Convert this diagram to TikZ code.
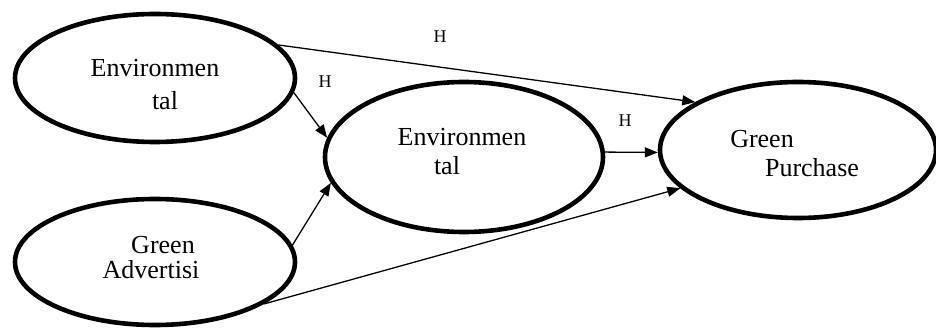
\documentclass[tikz,border=0pt]{standalone}
\usepackage{fontspec}
\setmainfont{Liberation Serif}
\usetikzlibrary{shapes.geometric,arrows.meta}
\begin{document}
\begin{tikzpicture}[x=1pt,y=1pt,
  construct/.style={ellipse,draw,line width=4.6pt,inner sep=0pt},
  lbl/.style={font=\fontsize{26}{28}\selectfont,inner sep=0pt},
  hyp/.style={font=\fontsize{18}{20}\selectfont,inner sep=0pt},
  path/.style={line width=1.3pt,-{Triangle[length=13pt,width=10pt]}}]
\useasboundingbox (0,0) rectangle (936,329);
% latent constructs
\node[construct,minimum width=280pt,minimum height=128pt] (e1) at (155,251) {};
\node[construct,minimum width=280pt,minimum height=126pt] (e2) at (155,67) {};
\node[construct,minimum width=278pt,minimum height=150pt] (e3) at (464,172) {};
\node[construct,minimum width=276pt,minimum height=136pt] (e4) at (798,179) {};
% construct names
\node[lbl] (t1a) at (155,261) {Environmen};
\node[lbl] (t1b) at (165,228) {tal};
\node[lbl] (t2a) at (163,84) {Green};
\node[lbl] (t2b) at (151,59) {Advertisi};
\node[lbl] (t3a) at (462,192) {Environmen};
\node[lbl] (t3b) at (447,163) {tal};
\node[lbl] (t4a) at (762,190) {Green};
\node[lbl] (t4b) at (812,161) {Purchase};
% hypotheses
\node[hyp] (h1) at (440,292) {H};
\node[hyp] (h2) at (325,247) {H};
\node[hyp] (h3) at (625,208) {H};
% paths
\draw[path] (e1.15) -- (e4.155);
\draw[path] (e1.-6) -- (e3.172);
\draw[path] (e2.7) -- (e3.191);
\draw[path] (e3.2) -- (e4.181);
\draw[path] (e2.-21) -- (e4.198);
\end{tikzpicture}
\end{document}
